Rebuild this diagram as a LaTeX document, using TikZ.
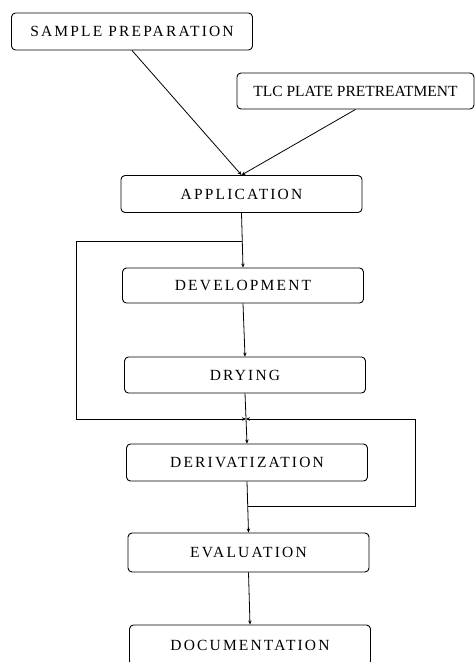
\documentclass[tikz,border=0pt]{standalone}
\usepackage{fontspec}
\setmainfont{Liberation Serif}
\newfontfamily\capsfont[LetterSpace=14]{Liberation Serif}
\usepackage{tikz}
\usetikzlibrary{arrows.meta}
\tikzset{
  box/.style={draw, rounded corners=4pt, line width=0.9pt, minimum width=241pt, minimum height=37pt,
              inner sep=2pt, align=center, font=\capsfont\fontsize{15.5}{17}\selectfont},
  boxn/.style={box, font=\fontsize{15.5}{17}\selectfont},
  flow/.style={-{Stealth[length=4pt,width=3.5pt]}, line width=0.8pt},
}

\begin{document}
\begin{tikzpicture}[x=1pt, y=-1pt]
  \useasboundingbox (0,0) rectangle (475,662);
  \node[box] (sample) at (132,31.5) {SAMPLE PREPARATION};
  \node[boxn, minimum width=237pt, minimum height=36pt] (tlc) at (355.5,91) {TLC PLATE PRETREATMENT};
  \node[box] (app) at (241.5,194) {APPLICATION};
  \node[box, minimum height=35pt] (dev) at (243,285.5) {DEVELOPMENT};
  \node[box, minimum height=36pt] (dry) at (245,375) {DRYING};
  \node[box] (deriv) at (247,462.5) {DERIVATIZATION};
  \node[box, minimum height=39pt] (eval) at (248.5,552.5) {EVALUATION};
  \node[box, minimum height=40pt] (doc) at (250,645) {DOCUMENTATION};
  % branch and merge points of the two loops
  \coordinate (lsplit) at (242,241);
  \coordinate (merge) at (246,419);
  \coordinate (rsplit) at (247.8,506);
  \draw[flow] (sample.south) -- (app.north);
  \draw[flow] (tlc.south) -- (app.north);
  \draw[flow] (app.south) -- (dev.north);
  \draw[flow] (dev.south) -- (dry.north);
  \draw[flow] (dry.south) -- (deriv.north);
  \draw[flow] (deriv.south) -- (eval.north);
  \draw[flow] (eval.south) -- (doc.north);
  \draw[flow] (lsplit) -- ++(-166,0) |- (merge);
  \draw[flow] (rsplit) -- ++(167.2,0) |- (merge);
\end{tikzpicture}
\end{document}
